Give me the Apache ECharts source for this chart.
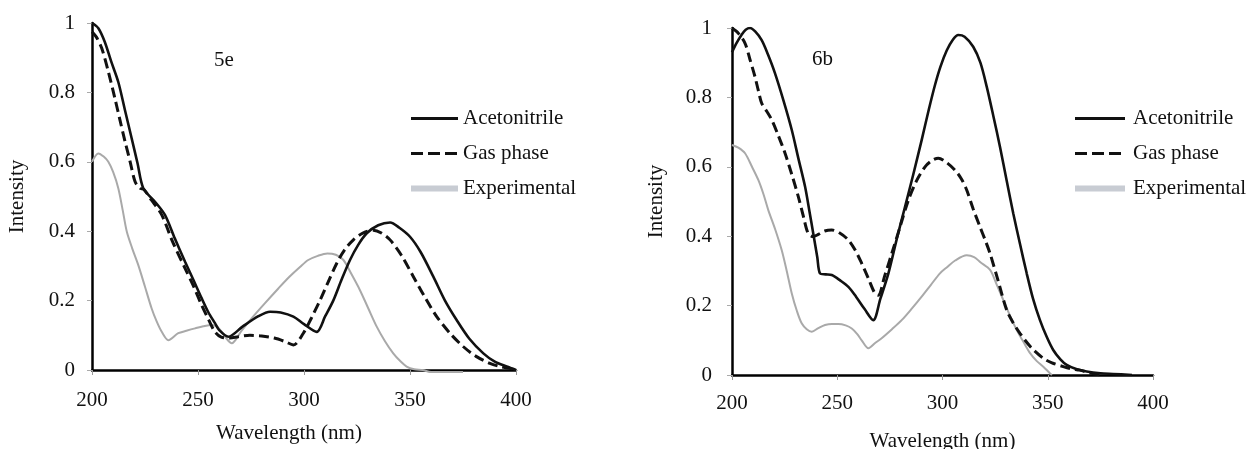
<!DOCTYPE html>
<html>
<head>
<meta charset="utf-8">
<script src="https://cdn.jsdelivr.net/npm/echarts@6/dist/echarts.min.js"></script>
<style>
html,body{margin:0;padding:0;background:#fff;}
#chart{width:1250px;height:449px;}
</style>
</head>
<body>
<div id="chart"></div>
<script>
// ---- Data ----
var seriesNames = ['Acetonitrile', 'Gas phase', 'Experimental'];
var panelLabels = ['5e', '6b'];
var xTicks = [200, 250, 300, 350, 400];
var yTicks = [0, 0.2, 0.4, 0.6, 0.8, 1];

var acn5e = [[200,1.0],[203,0.985],[206,0.946],[209,0.89],[212.4,0.83],[215.5,0.75],[218.7,0.668],[221.5,0.595],[224.2,0.524],[229.7,0.485],[234.4,0.447],[239,0.38],[243.9,0.312],[247.8,0.26],[251.7,0.207],[255,0.165],[258,0.135],[260,0.115],[264.3,0.096],[271,0.125],[278.5,0.155],[284,0.168],[289,0.166],[295,0.154],[300,0.132],[306,0.11],[310,0.155],[313.8,0.2],[317.7,0.26],[321.7,0.317],[325.5,0.36],[329.6,0.394],[335,0.417],[340.6,0.425],[345,0.41],[350,0.384],[355,0.34],[361,0.269],[366.5,0.2],[372,0.144],[378,0.09],[384.6,0.048],[390,0.024],[395.6,0.01],[400,0]];
var gas5e = [[200,0.975],[202,0.96],[204.6,0.927],[207.7,0.86],[210.8,0.783],[213.2,0.72],[215.6,0.658],[218,0.6],[220.3,0.543],[222.6,0.524],[224.5,0.52],[228,0.49],[232.9,0.447],[238,0.37],[243.9,0.293],[248,0.24],[251.7,0.187],[255,0.145],[258,0.11],[261,0.095],[265,0.092],[269,0.096],[274.5,0.1],[280,0.098],[286,0.092],[291,0.082],[295,0.072],[299.7,0.106],[303.5,0.15],[307.5,0.2],[311.5,0.255],[315.4,0.307],[319,0.345],[323.3,0.375],[328,0.395],[332.7,0.403],[336.5,0.395],[340.6,0.375],[346,0.33],[351.6,0.269],[357,0.21],[362.6,0.154],[369,0.105],[375.2,0.067],[381,0.04],[387.7,0.019],[393,0.009],[397,0.005],[400,0]];
var exp5e = [[200,0.6],[203,0.624],[205.5,0.615],[207.7,0.6],[210,0.57],[212.4,0.524],[214.5,0.46],[216.4,0.399],[219,0.35],[221.8,0.303],[225,0.24],[228.1,0.178],[230.5,0.14],[232.9,0.11],[236,0.086],[240.7,0.106],[244.5,0.113],[248.6,0.12],[252.5,0.126],[256.5,0.13],[259,0.125],[261.2,0.11],[263.5,0.09],[265.9,0.077],[270.5,0.113],[275.3,0.149],[281.5,0.192],[287.9,0.235],[293,0.268],[298.1,0.297],[302,0.317],[306.5,0.329],[311,0.336],[315,0.332],[318.6,0.317],[322.5,0.275],[326.4,0.23],[330.3,0.178],[334.3,0.125],[338.2,0.083],[342.1,0.048],[345.5,0.025],[348.4,0.01],[352,0.002],[356,0],[360,-0.006],[367,-0.006],[375,-0.006]];

var acn6b = [[200,0.93],[202,0.955],[204.5,0.98],[206.5,0.995],[208.6,1.0],[211,0.99],[214.1,0.965],[217,0.925],[220.4,0.87],[224.5,0.79],[228.4,0.706],[231.5,0.625],[234.7,0.543],[236.7,0.475],[238.6,0.408],[240.5,0.34],[241.8,0.293],[244.5,0.29],[247.4,0.288],[251.5,0.272],[255.3,0.254],[259,0.225],[263,0.19],[267.1,0.158],[270.5,0.22],[274.3,0.293],[278.2,0.39],[282.2,0.485],[286.2,0.58],[290.1,0.677],[293.5,0.765],[296.4,0.835],[299,0.888],[302,0.935],[305,0.967],[307.5,0.98],[310.5,0.975],[314.6,0.946],[318,0.9],[321,0.831],[324.2,0.745],[327.3,0.658],[330.5,0.56],[333.6,0.466],[336.8,0.378],[340,0.293],[343,0.22],[346.3,0.158],[349.5,0.11],[352.6,0.072],[356,0.045],[359,0.029],[363.5,0.017],[368.5,0.01],[375,0.005],[381,0.003],[390,0]];
var gas6b = [[200,1.0],[203,0.985],[206.2,0.956],[208.5,0.91],[210.9,0.86],[212.5,0.82],[214.1,0.783],[216.5,0.76],[218.9,0.735],[222,0.69],[225.2,0.639],[228.4,0.578],[231.5,0.514],[234,0.455],[236.2,0.408],[238.6,0.399],[241,0.405],[244,0.415],[247.4,0.418],[251,0.41],[255.3,0.389],[258.5,0.36],[261.6,0.322],[264.8,0.278],[267.9,0.235],[269.5,0.23],[272.5,0.285],[275.9,0.35],[280,0.43],[283.8,0.504],[287.7,0.56],[291.7,0.6],[295,0.618],[298,0.625],[302,0.612],[306,0.59],[309,0.565],[311.5,0.533],[314.5,0.48],[317.8,0.427],[320.2,0.39],[322.6,0.35],[326.5,0.27],[330.5,0.187],[333.6,0.15],[336.8,0.12],[342,0.08],[347.9,0.048],[352,0.035],[357.4,0.024],[361,0.018],[365.3,0.014],[370,0.006],[375,0]];
var exp6b = [[200,0.663],[203,0.655],[206.2,0.639],[209.5,0.6],[212.5,0.562],[215,0.52],[217.2,0.476],[220.5,0.42],[223.6,0.36],[226,0.3],[228.4,0.235],[230.8,0.185],[233.1,0.149],[235.5,0.132],[237.9,0.125],[241,0.135],[244.2,0.144],[247.5,0.147],[250.5,0.147],[254,0.143],[256.9,0.134],[259.5,0.118],[261.6,0.1],[264.8,0.077],[268,0.092],[271.1,0.106],[276,0.132],[280.6,0.158],[285.5,0.192],[290.1,0.226],[294.5,0.26],[298.8,0.293],[302,0.31],[306,0.33],[311.5,0.345],[315,0.34],[318,0.325],[322.6,0.303],[325.8,0.26],[328.9,0.216],[332,0.172],[335.2,0.13],[338.5,0.095],[341.6,0.063],[344.8,0.04],[347.9,0.024],[351,0.005],[352,0]];

// ---- Chart ----
var FONT = '"Liberation Serif", "DejaVu Serif", serif';
var FS = 21;
var chart = echarts.init(document.getElementById('chart'), null, {renderer: 'canvas'});

function xAxisCfg(grid, labelMargin, nameGap, namePad) {
  return {
    type: 'value', gridIndex: grid, min: xTicks[0], max: xTicks[xTicks.length - 1], interval: 50,
    name: 'Wavelength (nm)', nameLocation: 'middle', nameGap: nameGap,
    nameTextStyle: {fontFamily: FONT, fontSize: FS, color: '#111', padding: namePad},
    axisLine: {lineStyle: {color: '#000', width: 2.5}},
    axisTick: {show: true, length: 5, lineStyle: {color: '#999', width: 1}},
    axisLabel: {fontFamily: FONT, fontSize: FS, color: '#111', margin: labelMargin},
    splitLine: {show: false}
  };
}
function yAxisCfg(grid, labelMargin, nameGap) {
  return {
    type: 'value', gridIndex: grid, min: yTicks[0], max: yTicks[yTicks.length - 1], interval: 0.2,
    name: 'Intensity', nameLocation: 'middle', nameGap: nameGap, nameRotate: 90,
    nameTextStyle: {fontFamily: FONT, fontSize: FS, color: '#111'},
    axisLine: {show: true, lineStyle: {color: '#000', width: 2.5}},
    axisTick: {show: true, length: 5, lineStyle: {color: '#aaa', width: 1}},
    axisLabel: {fontFamily: FONT, fontSize: FS, color: '#111', margin: labelMargin},
    splitLine: {show: false}
  };
}

var styles = [
  {color: '#111', width: 2.6, type: 'solid'},
  {color: '#111', width: 3, type: [10, 5]},
  {color: '#a9a9a9', width: 2, type: 'solid'}
];
var panelData = [[acn5e, gas5e, exp5e], [acn6b, gas6b, exp6b]];
var series = [];
panelData.forEach(function (arr, p) {
  arr.forEach(function (d, i) {
    series.push({
      name: seriesNames[i], type: 'line', xAxisIndex: p, yAxisIndex: p,
      data: d, smooth: 0.3, symbol: 'none', showSymbol: false, clip: i !== 2,
      z: 3 - i,
      itemStyle: {color: styles[i].color},
      lineStyle: styles[i]
    });
  });
});

function legendCfg(left, itemWidth, textPad) {
  return {
    orient: 'vertical', left: left, top: 108, itemWidth: itemWidth, itemHeight: 14, itemGap: 14,
    selectedMode: false, padding: 0,
    itemStyle: {opacity: 0},
    textStyle: {fontFamily: FONT, fontSize: FS, color: '#111', lineHeight: 21, padding: [0, 0, 0, textPad]},
    data: [
      {name: 'Acetonitrile', itemStyle: {opacity: 0}, lineStyle: {width: 3.2, color: '#111', type: 'solid'}},
      {name: 'Gas phase', itemStyle: {opacity: 0}, lineStyle: {width: 3.2, color: '#111', type: [12, 5]}},
      {name: 'Experimental', itemStyle: {opacity: 0}, lineStyle: {width: 6, color: '#c8ccd3', type: 'solid'}}
    ]
  };
}

var option = {
  backgroundColor: '#fff',
  animation: false,
  grid: [
    {left: 92, top: 23, width: 424, height: 347, outerBoundsMode: 'none', containLabel: false},
    {left: 732, top: 28, width: 421, height: 347, outerBoundsMode: 'none', containLabel: false}
  ],
  xAxis: [xAxisCfg(0, 20, 53, [0, 30, 0, 0]), xAxisCfg(1, 18, 56, 0)],
  yAxis: [yAxisCfg(0, 17, 64), yAxisCfg(1, 20, 65)],
  legend: [legendCfg(408, 47, 0), legendCfg(1072, 50, 3)],
  graphic: [
    {type: 'text', left: 214, top: 50, style: {text: panelLabels[0], font: FS + 'px ' + FONT, fill: '#111'}},
    {type: 'text', left: 812, top: 49, style: {text: panelLabels[1], font: FS + 'px ' + FONT, fill: '#111'}}
  ],
  series: series
};
chart.setOption(option);
</script>
</body>
</html>
